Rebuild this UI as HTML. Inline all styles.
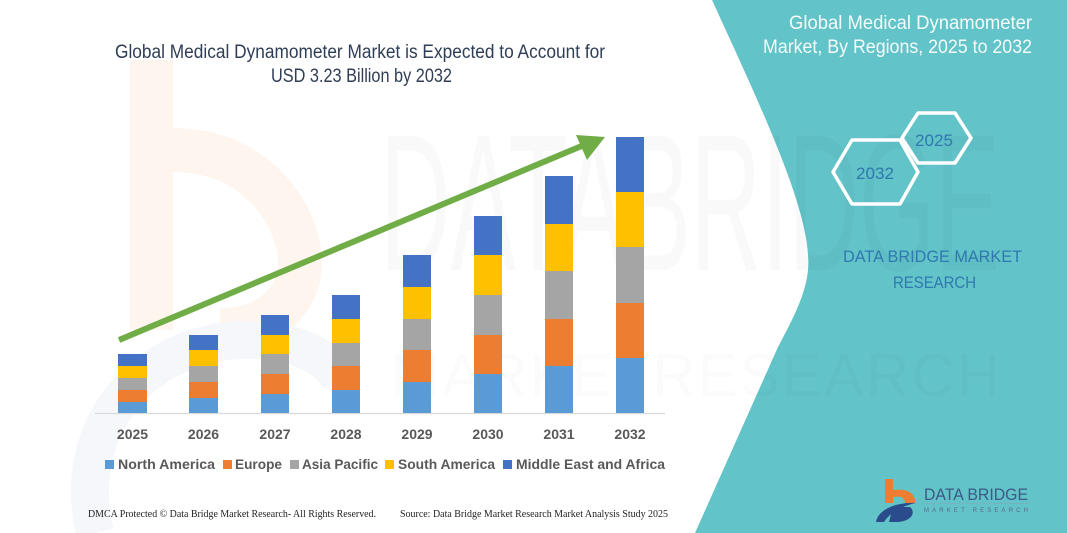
<!DOCTYPE html>
<html>
<head>
<meta charset="utf-8">
<style>
  html, body { margin: 0; padding: 0; background: #ffffff; }
  svg { display: block; }
  .t { font-family: "Liberation Sans", "DejaVu Sans", sans-serif; }
  .s { font-family: "Liberation Serif", "DejaVu Serif", serif; }
</style>
</head>
<body>
<svg width="1067" height="533" viewBox="0 0 1067 533" xmlns="http://www.w3.org/2000/svg">
  <rect x="0" y="0" width="1067" height="533" fill="#ffffff"/>

  <!-- faint background logo watermark (left) -->
  <rect x="130" y="60" width="43" height="270" fill="#fef5ef"/>
  <path d="M173,150 C260,150 300,220 300,262 C300,300 270,330 220,330" fill="none" stroke="#fef5ef" stroke-width="44"/>
  <path d="M95,533 C70,430 140,345 240,340 C300,338 330,360 340,380" fill="none" stroke="#f5f7fb" stroke-width="38"/>

  <!-- teal right panel -->
  <path d="M712,0 C760,105 805,200 808,255 C811,285 795,315 778,347 L695,533 L1067,533 L1067,0 Z" fill="#62c3c8"/>

  <!-- faint large watermark text -->
  <text class="t" x="380" y="270" font-size="195" textLength="620" lengthAdjust="spacingAndGlyphs" fill="#000000" fill-opacity="0.022">DATABRIDGE</text>
  <text class="t" x="390" y="396" font-size="60" textLength="610" lengthAdjust="spacing" fill="#000000" fill-opacity="0.015">MARKETRESEARCH</text>

  <!-- title -->
  <text class="t" x="115" y="58" font-size="19" textLength="490" lengthAdjust="spacingAndGlyphs" fill="#2f3d56">Global Medical Dynamometer Market is Expected to Account for</text>
  <text class="t" x="271" y="82" font-size="19" textLength="181" lengthAdjust="spacingAndGlyphs" fill="#2f3d56">USD 3.23 Billion by 2032</text>

  <!-- axis line -->
  <line x1="95" y1="413.5" x2="665" y2="413.5" stroke="#d9d9d9" stroke-width="1.2"/>

  <!-- bars: NA, EU, AP, SA, MEA -->
  <rect x="118" y="402" width="29" height="11" fill="#5b9bd5"/>
  <rect x="118" y="390" width="29" height="12" fill="#ed7d31"/>
  <rect x="118" y="378" width="29" height="12" fill="#a5a5a5"/>
  <rect x="118" y="366" width="29" height="12" fill="#ffc000"/>
  <rect x="118" y="354" width="29" height="12" fill="#4472c4"/>

  <rect x="189" y="398" width="29" height="15" fill="#5b9bd5"/>
  <rect x="189" y="382" width="29" height="16" fill="#ed7d31"/>
  <rect x="189" y="366" width="29" height="16" fill="#a5a5a5"/>
  <rect x="189" y="350" width="29" height="16" fill="#ffc000"/>
  <rect x="189" y="335" width="29" height="15" fill="#4472c4"/>

  <rect x="261" y="394" width="28" height="19" fill="#5b9bd5"/>
  <rect x="261" y="374" width="28" height="20" fill="#ed7d31"/>
  <rect x="261" y="354" width="28" height="20" fill="#a5a5a5"/>
  <rect x="261" y="335" width="28" height="19" fill="#ffc000"/>
  <rect x="261" y="315" width="28" height="20" fill="#4472c4"/>

  <rect x="332" y="390" width="28" height="23" fill="#5b9bd5"/>
  <rect x="332" y="366" width="28" height="24" fill="#ed7d31"/>
  <rect x="332" y="343" width="28" height="23" fill="#a5a5a5"/>
  <rect x="332" y="319" width="28" height="24" fill="#ffc000"/>
  <rect x="332" y="295" width="28" height="24" fill="#4472c4"/>

  <rect x="403" y="382" width="28" height="31" fill="#5b9bd5"/>
  <rect x="403" y="350" width="28" height="32" fill="#ed7d31"/>
  <rect x="403" y="319" width="28" height="31" fill="#a5a5a5"/>
  <rect x="403" y="287" width="28" height="32" fill="#ffc000"/>
  <rect x="403" y="255" width="28" height="32" fill="#4472c4"/>

  <rect x="474" y="374" width="28" height="39" fill="#5b9bd5"/>
  <rect x="474" y="335" width="28" height="39" fill="#ed7d31"/>
  <rect x="474" y="295" width="28" height="40" fill="#a5a5a5"/>
  <rect x="474" y="255" width="28" height="40" fill="#ffc000"/>
  <rect x="474" y="216" width="28" height="39" fill="#4472c4"/>

  <rect x="545" y="366" width="28" height="47" fill="#5b9bd5"/>
  <rect x="545" y="319" width="28" height="47" fill="#ed7d31"/>
  <rect x="545" y="271" width="28" height="48" fill="#a5a5a5"/>
  <rect x="545" y="224" width="28" height="47" fill="#ffc000"/>
  <rect x="545" y="176" width="28" height="48" fill="#4472c4"/>

  <rect x="616" y="358" width="28" height="55" fill="#5b9bd5"/>
  <rect x="616" y="303" width="28" height="55" fill="#ed7d31"/>
  <rect x="616" y="247" width="28" height="56" fill="#a5a5a5"/>
  <rect x="616" y="192" width="28" height="55" fill="#ffc000"/>
  <rect x="616" y="137" width="28" height="55" fill="#4472c4"/>

  <!-- growth arrow -->
  <line x1="119" y1="340" x2="584" y2="145" stroke="#70ad47" stroke-width="6"/>
  <polygon points="605,137 576,135 587,160" fill="#70ad47"/>

  <!-- year labels -->
  <g class="t" font-size="14" font-weight="bold" fill="#595959" text-anchor="middle">
    <text x="132.5" y="439">2025</text>
    <text x="203.5" y="439">2026</text>
    <text x="275" y="439">2027</text>
    <text x="346" y="439">2028</text>
    <text x="417" y="439">2029</text>
    <text x="488" y="439">2030</text>
    <text x="559" y="439">2031</text>
    <text x="630" y="439">2032</text>
  </g>

  <!-- legend -->
  <rect x="105" y="460" width="9" height="9" fill="#5b9bd5"/>
  <rect x="223" y="460" width="9" height="9" fill="#ed7d31"/>
  <rect x="290" y="460" width="9" height="9" fill="#a5a5a5"/>
  <rect x="385" y="460" width="9" height="9" fill="#ffc000"/>
  <rect x="503" y="460" width="9" height="9" fill="#4472c4"/>
  <g class="t" font-size="14" font-weight="bold" fill="#595959">
    <text x="118" y="469" textLength="97" lengthAdjust="spacingAndGlyphs">North America</text>
    <text x="235" y="469" textLength="47" lengthAdjust="spacingAndGlyphs">Europe</text>
    <text x="302" y="469" textLength="76" lengthAdjust="spacingAndGlyphs">Asia Pacific</text>
    <text x="398" y="469" textLength="97" lengthAdjust="spacingAndGlyphs">South America</text>
    <text x="516" y="469" textLength="149" lengthAdjust="spacingAndGlyphs">Middle East and Africa</text>
  </g>

  <!-- footer -->
  <text class="s" x="88" y="517" font-size="10.5" textLength="288" lengthAdjust="spacingAndGlyphs" fill="#222222">DMCA Protected © Data Bridge Market Research-  All Rights Reserved.</text>
  <text class="s" x="400" y="517" font-size="10.5" textLength="268" lengthAdjust="spacingAndGlyphs" fill="#222222">Source: Data Bridge Market Research  Market Analysis Study 2025</text>

  <!-- right panel title -->
  <text class="t" x="789" y="29" font-size="19" textLength="243" lengthAdjust="spacingAndGlyphs" fill="#f4fbfb">Global Medical Dynamometer</text>
  <text class="t" x="763" y="53" font-size="19" textLength="269" lengthAdjust="spacingAndGlyphs" fill="#f4fbfb">Market, By Regions, 2025 to 2032</text>

  <!-- hexagons -->
  <polygon points="902,138 918,113 955,113 971,138 955,163 918,163" fill="none" stroke="#ffffff" stroke-width="3.5" stroke-linejoin="round"/>
  <polygon points="833,172 852,140 900,140 918,172 900,204 852,204" fill="none" stroke="#ffffff" stroke-width="3.5" stroke-linejoin="round"/>
  <text class="t" x="934" y="146" font-size="17" text-anchor="middle" textLength="38" lengthAdjust="spacingAndGlyphs" fill="#2f78b0">2025</text>
  <text class="t" x="875" y="179" font-size="17" text-anchor="middle" textLength="38" lengthAdjust="spacingAndGlyphs" fill="#2f78b0">2032</text>

  <!-- DATA BRIDGE MARKET RESEARCH -->
  <text class="t" x="843" y="262" font-size="17" textLength="179" lengthAdjust="spacingAndGlyphs" fill="#2f78b0">DATA BRIDGE MARKET</text>
  <text class="t" x="893" y="288" font-size="17" textLength="83" lengthAdjust="spacingAndGlyphs" fill="#2f78b0">RESEARCH</text>

  <!-- bottom-right logo -->
  <rect x="885" y="479" width="8" height="24" fill="#ee7d31"/>
  <path d="M893,490 C908,488 916,494 915,503 L905,503 C905,497 900,496 893,497 Z" fill="#ee7d31"/>
  <path d="M876,522 C878,510 895,502 916,503 C905,505 890,512 884,522 Z" fill="#2b4c8c"/>
  <path d="M893,507 L910,507 C916,512 912,521 898,522 L889,522 Z" fill="#2b4c8c"/>
  <text class="t" x="924" y="500" font-size="17" textLength="104" lengthAdjust="spacingAndGlyphs" fill="#3b5b85">DATA BRIDGE</text>
  <line x1="924" y1="503.5" x2="1030" y2="503.5" stroke="#8aa6b8" stroke-width="0.6"/>
  <text class="t" x="924" y="512" font-size="6" textLength="104" lengthAdjust="spacing" fill="#5a6a85">MARKET RESEARCH</text>
</svg>
</body>
</html>
